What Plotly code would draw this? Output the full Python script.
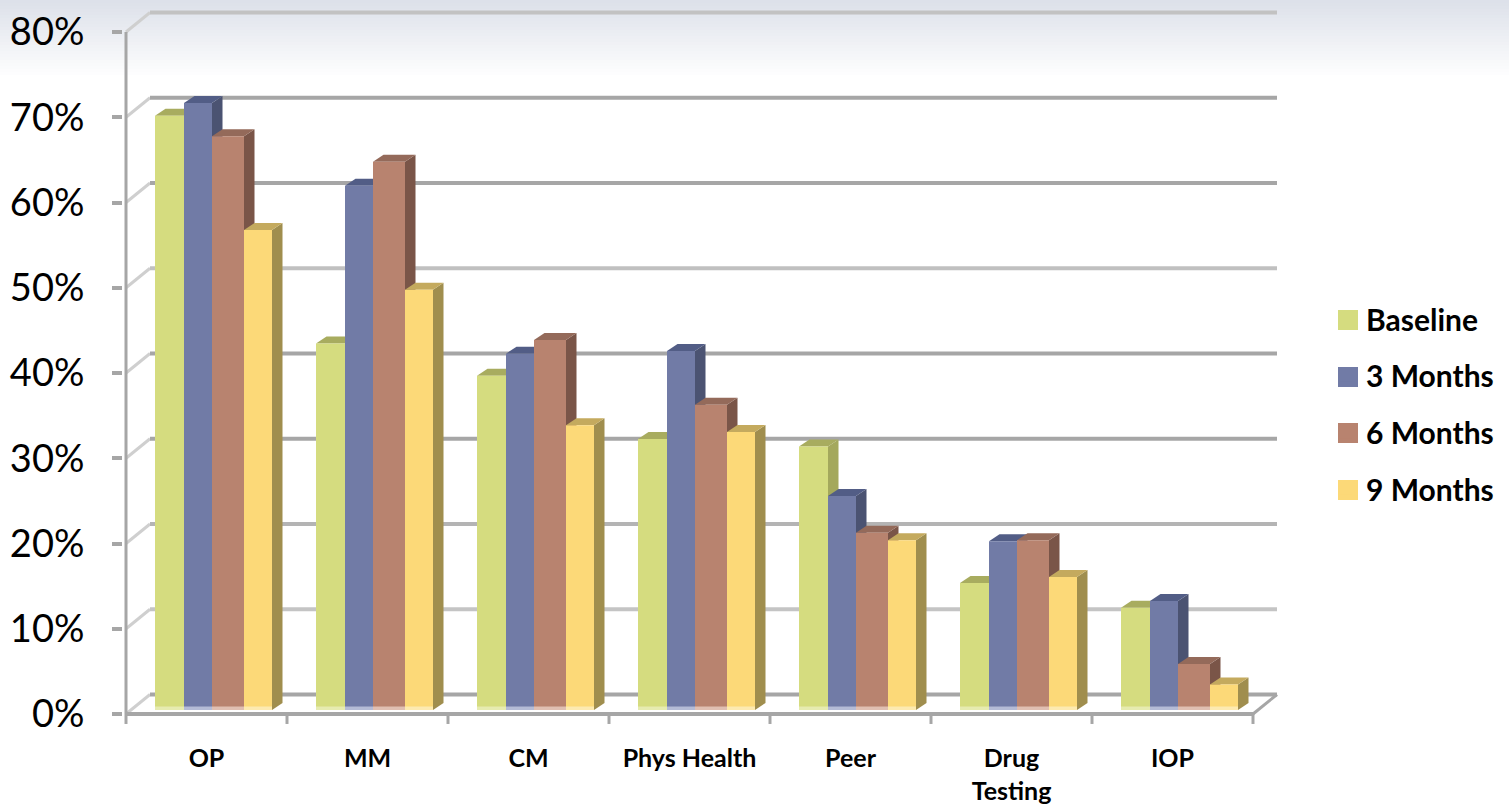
import plotly.graph_objects as go

categories = ["OP", "MM", "CM", "Phys Health", "Peer", "Drug<br>Testing", "IOP"]
baseline = [69.7, 43.0, 39.2, 31.8, 30.9, 14.9, 12.0]
months3 = [71.2, 61.5, 41.8, 42.1, 25.1, 19.8, 12.8]
months6 = [67.3, 64.3, 43.4, 35.8, 20.8, 19.9, 5.4]
months9 = [56.3, 49.3, 33.4, 32.6, 19.9, 15.6, 3.0]
series_names = ["Baseline", "3 Months", "6 Months", "9 Months"]
y_ticks = [0, 10, 20, 30, 40, 50, 60, 70, 80]
y_labels = ["0%", "10%", "20%", "30%", "40%", "50%", "60%", "70%", "80%"]

series = [baseline, months3, months6, months9]
front = ["#d5dc7f", "#717ba6", "#b8836f", "#fcd978"]
side = ["#a4a85c", "#4b5372", "#7a5548", "#a08e4e"]
top = ["#a8ac5f", "#525d86", "#946a5a", "#c4aa5e"]
rim = ["#e6ebb0", "#b4bbd6", "#e0bfb2", "#fdeab0"]
grid_cols = ["#a6a6a6", "#c4c4c4", "#b4b4b4", "#a6a6a6", "#a6a6a6", "#c0c0c0", "#a6a6a6", "#a6a6a6", "#c2c2c2"]

# pixel geometry of the plot
W, H = 1509, 807
X0, XU = 126.0, 161.0
Y0, YU = 714.0, 8.525
L, R, T, B = 123, 1281, 10, 724
AXC = "#a6a6a6"

def xp(px):
    return (px - L) / (R - L)

def yp(py):
    return (B - py) / (B - T)

wall_dx, wall_dy = 24 / XU, 19.5 / YU
bar_dx, bar_dy = 10.5 / XU, 7 / YU
bar_base = 4 / YU
bar_starts = [29 / XU, 58 / XU, 86 / XU, 118 / XU]
bar_widths = [29 / XU, 28 / XU, 32 / XU, 28 / XU]

shapes = []
# top gradient
bands = 25
for i in range(bands):
    f = i / bands
    c = [int(221 + (255 - 221) * f), int(225 + (255 - 225) * f), int(234 + (255 - 234) * f)]
    shapes.append(dict(type="rect", xref="paper", yref="paper", x0=xp(0), x1=xp(W),
                       y0=yp(i * 3), y1=yp((i + 1) * 3), fillcolor=f"rgb({c[0]},{c[1]},{c[2]})",
                       line=dict(width=0), layer="below"))

def line(x0, y0, x1, y1, color, width):
    shapes.append(dict(type="line", xref="x", yref="y", x0=x0, y0=y0, x1=x1, y1=y1,
                       line=dict(color=color, width=width), layer="below"))

n = len(categories)
# walls and floor
for v, c in zip(y_ticks, grid_cols):
    line(0, v, wall_dx, v + wall_dy, "#cfcfcf", 3)
    line(wall_dx, v + wall_dy, n + wall_dx, v + wall_dy, c, 4)
line(n, 0, n + wall_dx, wall_dy, AXC, 3)
line(0, 0, 0, 80, AXC, 3)
line(0, 0, n, 0, AXC, 4)
for i in range(n + 1):
    line(i, 0, i, -1.17, AXC, 3)

# 3-D faces
for i in range(n):
    for s, vals in enumerate(series):
        xl = i + bar_starts[s]
        xr = xl + bar_widths[s]
        v = vals[i] + bar_base
        shapes.append(dict(type="path", xref="x", yref="y", layer="below", line=dict(width=0), fillcolor=side[s],
                           path=f"M{xr},{bar_base} L{xr+bar_dx},{bar_base+bar_dy} L{xr+bar_dx},{v+bar_dy} L{xr},{v} Z"))
        shapes.append(dict(type="path", xref="x", yref="y", layer="below", line=dict(width=0), fillcolor=top[s],
                           path=f"M{xl},{v} L{xl+bar_dx},{v+bar_dy} L{xr+bar_dx},{v+bar_dy} L{xr},{v} Z"))
        # light rim at the foot of each bar
        shapes.append(dict(type="rect", xref="x", yref="y", layer="above", line=dict(width=0), fillcolor=rim[s],
                           x0=xl, x1=xr, y0=bar_base, y1=bar_base + 3.5 / YU))

# legend swatches
swatch_rows = [320, 377, 433, 490]
for s, py in enumerate(swatch_rows):
    shapes.append(dict(type="rect", xref="paper", yref="paper", x0=xp(1338), x1=xp(1358),
                       y0=yp(py - 10), y1=yp(py + 10), fillcolor=front[s], line=dict(width=0), layer="above"))

fig = go.Figure()
centers = [i + 0.5 for i in range(n)]
for s, vals in enumerate(series):
    fig.add_trace(go.Bar(
        x=centers, y=vals, base=bar_base, name=series_names[s],
        width=bar_widths[s], offset=[bar_starts[s] - 0.5] * n,
        marker=dict(color=front[s], line=dict(width=0)),
        legendgroup=series_names[s],
    ))

fig.update_layout(
    width=W, height=H, autosize=False,
    margin=dict(l=L, r=W - R, t=T, b=H - B, pad=0, autoexpand=False),
    paper_bgcolor="white", plot_bgcolor="rgba(0,0,0,0)",
    barmode="overlay", shapes=shapes,
    font=dict(family="Lato", color="#000000"),
    legend=dict(x=xp(1326), xanchor="left", y=yp(293), yanchor="top",
                font=dict(size=30, family="Lato", weight="bold", color="#000000"),
                tracegroupgap=14.6, bgcolor="rgba(0,0,0,0)", itemwidth=30,
                itemclick=False, itemdoubleclick=False),
    xaxis=dict(range=[(L - X0) / XU, (R - X0) / XU], tickmode="array", tickvals=centers, ticktext=categories,
               ticks="", showgrid=False, showline=False, zeroline=False, ticklabelstandoff=17, automargin=False,
               tickfont=dict(size=25, family="Lato", weight="bold", color="#000000")),
    yaxis=dict(range=[(Y0 - B) / YU, (Y0 - T) / YU], tickmode="array", tickvals=y_ticks, ticktext=y_labels,
               ticks="outside", ticklen=10, tickwidth=4, tickcolor=AXC, showgrid=False, showline=False,
               zeroline=False, ticklabelstandoff=20, automargin=False,
               tickfont=dict(size=38, family="Lato", color="#000000")),
)
fig.write_html("out.html", config=dict(responsive=False, displayModeBar=False),
               post_script="document.body.style.margin='0';document.body.style.overflow='hidden';")
